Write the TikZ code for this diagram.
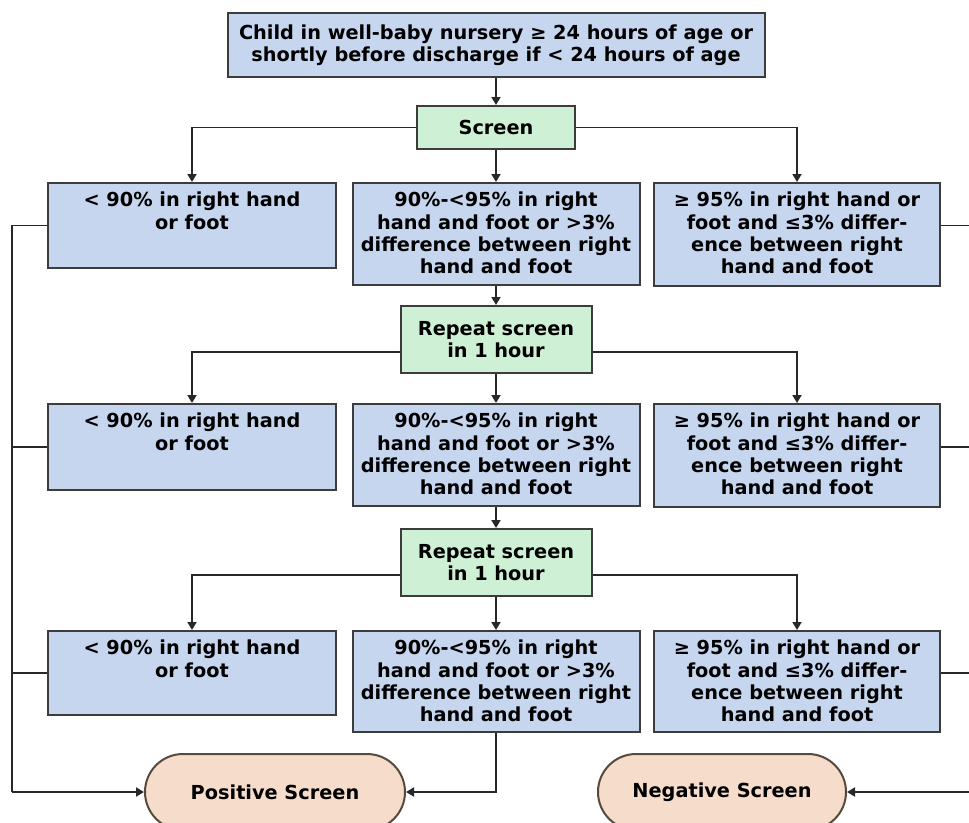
\documentclass[tikz,border=0pt]{standalone}
\usepackage{fontspec}
\setmainfont{DejaVu Sans}
\usetikzlibrary{arrows.meta}
\definecolor{bluefill}{RGB}{198,214,239}
\definecolor{greenfill}{RGB}{206,240,212}
\definecolor{peach}{RGB}{246,220,202}
\definecolor{edge}{RGB}{60,60,60}
\definecolor{wire}{RGB}{40,40,40}
\newcommand\btext[3]{\vbox to #1{\vskip 8pt\hbox to #2{\hss\begin{tabular}[t]{@{}c@{}}#3\end{tabular}\hss}\vss}}
\begin{document}
\begin{tikzpicture}[x=1pt,y=-1pt,
  every node/.style={font=\bfseries\fontsize{19.3}{22.4}\selectfont, text=black},
  bbox/.style={draw=edge, line width=2pt, fill=bluefill, inner sep=0pt, anchor=north},
  gbox/.style={draw=edge, line width=2pt, fill=greenfill, inner sep=0pt, align=center},
  oval/.style={draw=edge!80!brown, line width=2pt, fill=peach, rounded corners=38pt, minimum height=76pt, inner sep=0pt},
  wires/.style={draw=wire, line width=1.9pt},
  arr/.style={wires, -{Triangle[length=8pt,width=9pt]}}]
\useasboundingbox[fill=white] (0,0) rectangle (969,822);

% top and screen
\node[gbox, fill=bluefill, minimum width=537pt, minimum height=64pt] (top) at (496,45)
  {Child in well-baby nursery ≥ 24 hours of age or\\shortly before discharge if < 24 hours of age};
\node[gbox, minimum width=158pt, minimum height=43pt] (scr) at (496,127.5) {Screen};

% row 1
\node[bbox] (r1L) at (192,182) {\btext{85pt}{288pt}{< 90\% in right hand\\or foot}};
\node[bbox] (r1M) at (496,182) {\btext{102pt}{287pt}{90\%-<95\% in right\\hand and foot or >3\%\\difference between right\\hand and foot}};
\node[bbox] (r1R) at (797,182) {\btext{103pt}{286pt}{≥ 95\% in right hand or\\foot and ≤3\% differ-\\ence between right\\hand and foot}};

\node[gbox, minimum width=191pt, minimum height=67pt, anchor=north] (rep1) at (496,305) {Repeat screen\\in 1 hour};

% row 2
\node[bbox] (r2L) at (192,403) {\btext{86pt}{288pt}{< 90\% in right hand\\or foot}};
\node[bbox] (r2M) at (496,403) {\btext{102pt}{287pt}{90\%-<95\% in right\\hand and foot or >3\%\\difference between right\\hand and foot}};
\node[bbox] (r2R) at (797,403) {\btext{103pt}{286pt}{≥ 95\% in right hand or\\foot and ≤3\% differ-\\ence between right\\hand and foot}};

\node[gbox, minimum width=191pt, minimum height=67pt, anchor=north] (rep2) at (496,528) {Repeat screen\\in 1 hour};

% row 3
\node[bbox] (r3L) at (192,630) {\btext{84pt}{288pt}{< 90\% in right hand\\or foot}};
\node[bbox] (r3M) at (496,630) {\btext{101pt}{287pt}{90\%-<95\% in right\\hand and foot or >3\%\\difference between right\\hand and foot}};
\node[bbox] (r3R) at (797,630) {\btext{101pt}{286pt}{≥ 95\% in right hand or\\foot and ≤3\% differ-\\ence between right\\hand and foot}};

% outcomes
\node[oval, minimum width=260pt] (pos) at (275,792) {Positive Screen};
\node[oval, minimum width=248pt] (neg) at (722,792) {Negative Screen};

\coordinate (lr) at (12,792);
\coordinate (rr) at (969,792);

% connectors
\draw[arr] (top.south) -- (scr.north);
\draw[arr] (scr.west) -| (r1L.north);
\draw[arr] (scr.east) -| (r1R.north);
\draw[arr] (scr.south) -- (r1M.north);

\draw[arr] (r1M.south) -- (rep1.north);
\draw[arr] ([yshift=-12.5pt]rep1.west) -| (r2L.north);
\draw[arr] ([yshift=-12.5pt]rep1.east) -| (r2R.north);
\draw[arr] (rep1.south) -- (r2M.north);

\draw[arr] (r2M.south) -- (rep2.north);
\draw[arr] ([yshift=-12.5pt]rep2.west) -| (r3L.north);
\draw[arr] ([yshift=-12.5pt]rep2.east) -| (r3R.north);
\draw[arr] (rep2.south) -- (r3M.north);

% left rail to positive
\draw[wires] (r1L.west) -| (lr);
\draw[wires] (r2L.west) -- (r2L.west -| lr);
\draw[wires] (r3L.west) -- (r3L.west -| lr);
\draw[arr] (lr) -- (pos.west);
\draw[arr] (r3M.south) |- (pos.east);

% right side to negative
\draw[wires] (r1R.east |- r1L.west) -- (r1L.west -| rr);
\draw[wires] (r2R.east |- r2L.west) -- (r2L.west -| rr);
\draw[wires] (r3R.east |- r3L.west) -- (r3L.west -| rr);
\draw[arr] (rr) -- (neg.east);
\end{tikzpicture}
\end{document}
